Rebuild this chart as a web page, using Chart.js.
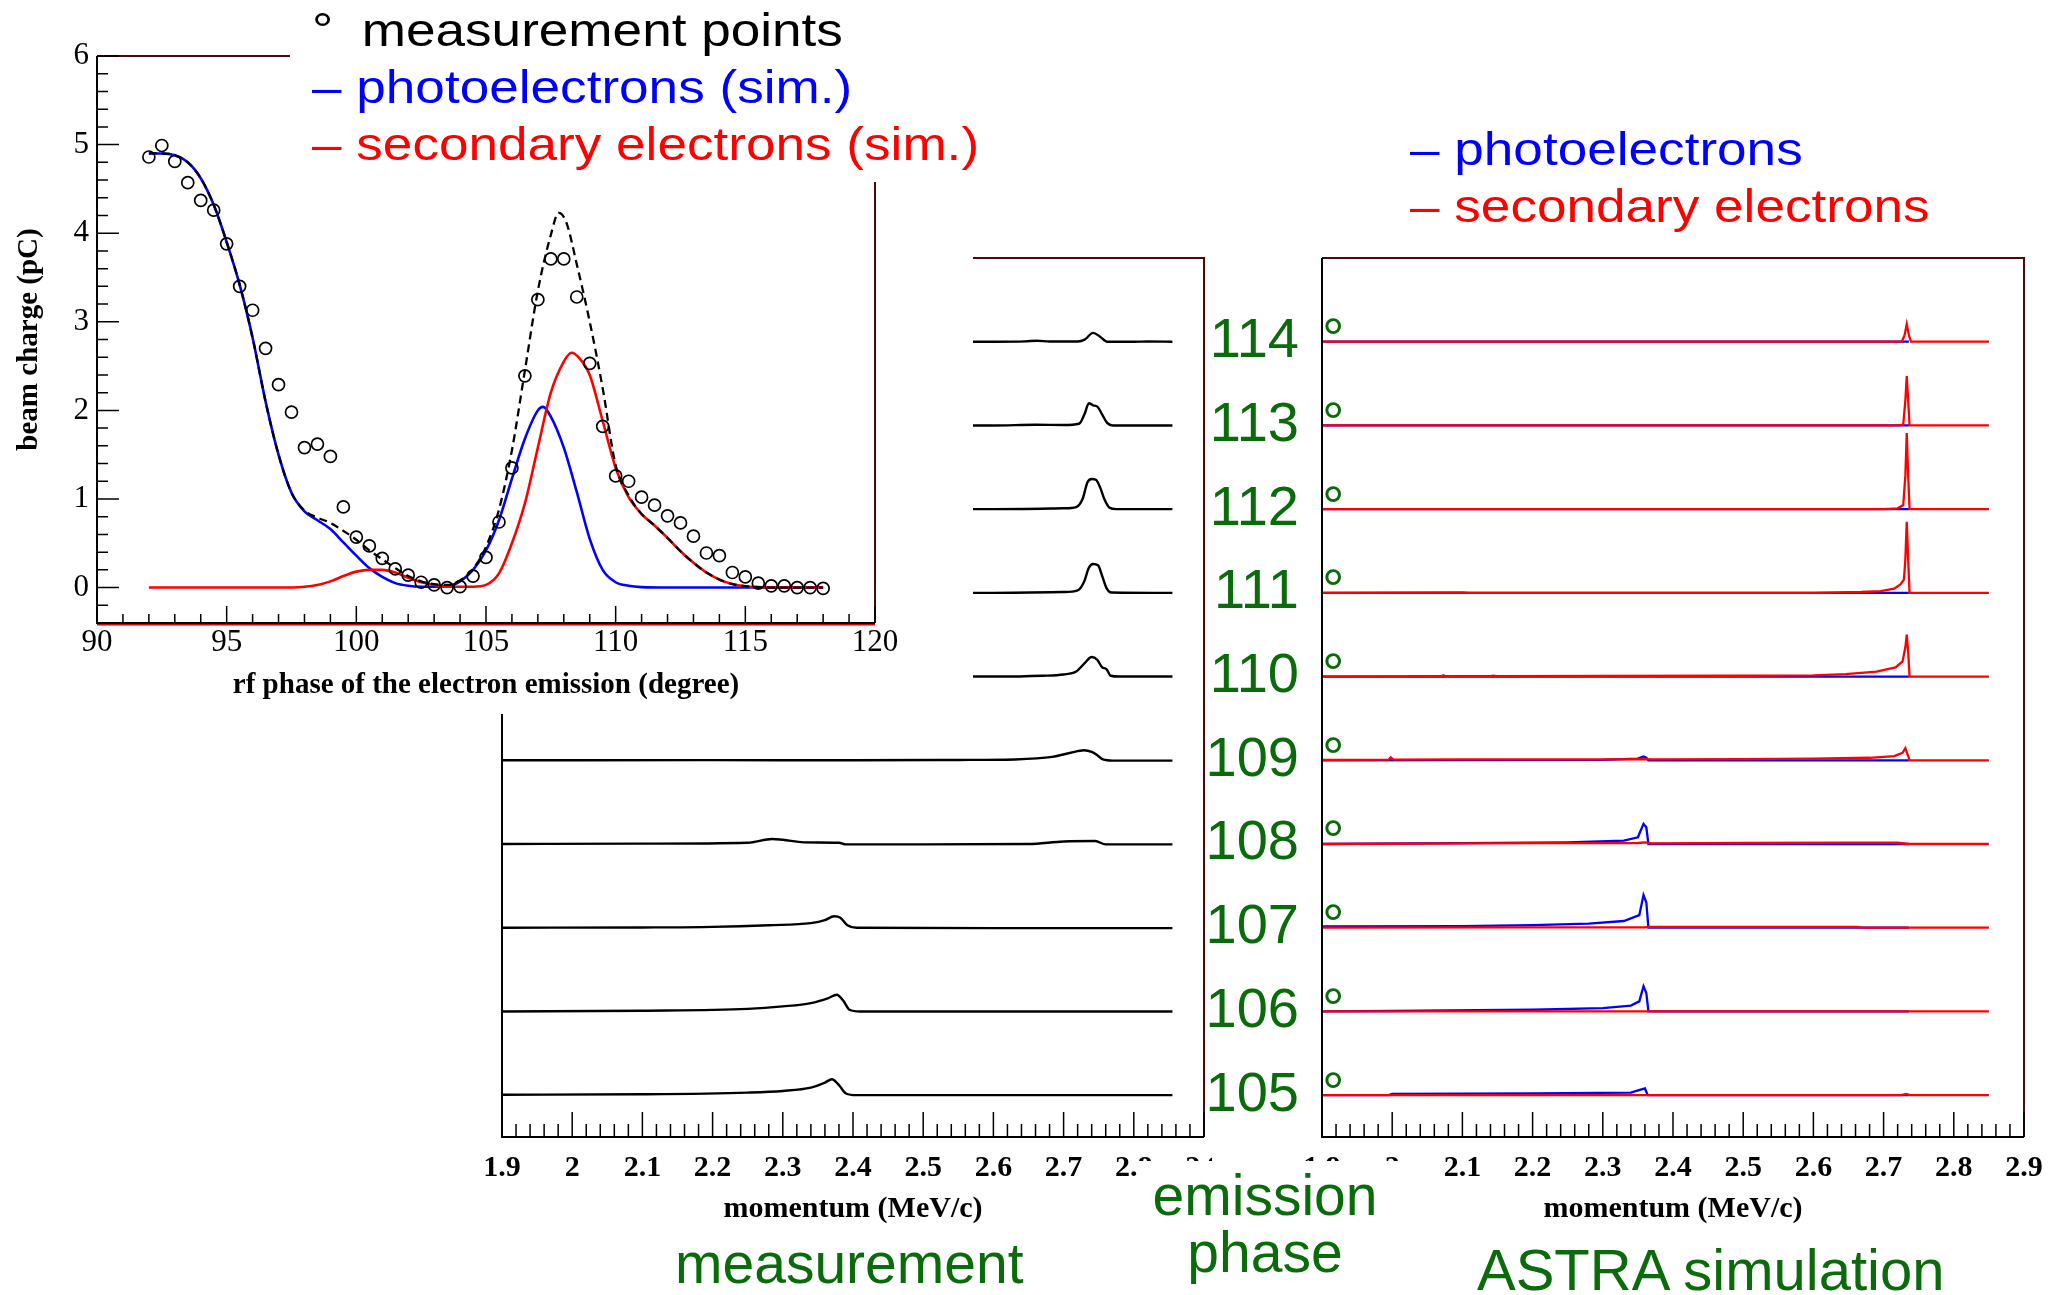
<!DOCTYPE html>
<html>
<head>
<meta charset="utf-8">
<title>beam charge and momentum spectra</title>
<script src="https://cdn.jsdelivr.net/npm/chart.js@4.4.1/dist/chart.umd.min.js"></script>
<style>
  html, body { margin: 0; padding: 0; background: #fff; }
  body { position: relative; width: 2049px; height: 1295px; overflow: hidden; font-family: "Liberation Sans", Arial, sans-serif; }
  canvas { position: absolute; }
  #charge { left: 0; top: 0; background: #fff; }
  #meas { left: 400px; top: 240px; }
  #sim { left: 1205px; top: 240px; }
  .key { position: absolute; font-size: 47px; line-height: 50px; white-space: nowrap; transform: scaleX(1.13); transform-origin: 0 0; }
  .green { position: absolute; color: #0a6b0a; white-space: nowrap; }
</style>
</head>
<body>
<canvas id="meas" width="812" height="990"></canvas>
<canvas id="sim" width="844" height="990"></canvas>
<canvas id="charge" width="973" height="714"></canvas>

<div style="position:absolute;left:290px;top:0;width:700px;height:182px;background:#fff"></div>
<div class="key" style="left:312px;top:5px;color:#000"><span style="display:inline-block;width:44px">°</span>measurement points</div>
<div class="key" style="left:312px;top:62px;color:#0000ff">– photoelectrons (sim.)</div>
<div class="key" style="left:312px;top:119px;color:#ff0000">– secondary electrons (sim.)</div>

<div class="key" style="left:1410px;top:124px;color:#0000ff">– photoelectrons</div>
<div class="key" style="left:1410px;top:181px;color:#ff0000">– secondary electrons</div>

<div style="position:absolute;left:1138px;top:1161px;width:282px;height:134px;background:#fff"></div>
<div class="green" style="left:1140px;top:1167px;width:250px;text-align:center;font-size:57px;line-height:57px">emission<br>phase</div>
<div class="green" style="left:675px;top:1235px;font-size:57px;line-height:57px">measurement</div>
<div class="green" style="left:1477px;top:1241px;font-size:58px;line-height:58px">ASTRA simulation</div>

<script>
// beam charge vs rf phase (upper left panel)
const measPhase = [92, 92.5, 93, 93.5, 94, 94.5, 95, 95.5, 96, 96.5, 97, 97.5, 98, 98.5, 99, 99.5, 100, 100.5, 101, 101.5,
  102, 102.5, 103, 103.5, 104, 104.5, 105, 105.5, 106, 106.5, 107, 107.5, 108, 108.5, 109, 109.5, 110, 110.5, 111, 111.5,
  112, 112.5, 113, 113.5, 114, 114.5, 115, 115.5, 116, 116.5, 117, 117.5, 118]
const measCharge = [4.86, 4.99, 4.81, 4.57, 4.37, 4.26, 3.88, 3.40, 3.13, 2.70, 2.29, 1.98, 1.58, 1.62, 1.48, 0.91, 0.57, 0.47, 0.33, 0.21,
  0.14, 0.06, 0.03, 0.00, 0.01, 0.13, 0.34, 0.74, 1.35, 2.39, 3.25, 3.71, 3.71, 3.28, 2.53, 1.82, 1.26, 1.20, 1.02, 0.93,
  0.81, 0.73, 0.58, 0.39, 0.36, 0.17, 0.12, 0.05, 0.02, 0.02, 0.00, 0.00, -0.01]

const photoPhase = [92, 92.5, 93, 93.5, 94, 94.5, 95, 95.5, 96, 96.5, 97, 97.5, 98, 98.5, 99, 99.5, 100, 100.5, 101, 101.5,
  102, 102.5, 103, 103.5, 104, 104.5, 105, 105.5, 106, 106.5, 107, 107.2, 107.5, 108, 108.5, 109, 109.5, 110, 110.5, 111,
  112, 114, 116, 118]
const photoCharge = [4.90, 4.90, 4.88, 4.80, 4.62, 4.32, 3.90, 3.42, 2.82, 2.10, 1.50, 1.07, 0.86, 0.76, 0.66, 0.51, 0.36, 0.22, 0.12, 0.05,
  0.02, 0.01, 0.01, 0.015, 0.07, 0.20, 0.42, 0.76, 1.23, 1.68, 2.00, 2.04, 1.93, 1.58, 1.08, 0.55, 0.20, 0.06, 0.02, 0.005,
  0, 0, 0, 0]

const secPhase = [92, 97, 98, 98.5, 99, 99.5, 100, 100.5, 101, 101.5, 102, 102.5, 103, 103.5, 104, 104.5, 105, 105.5, 106, 106.5,
  107, 107.5, 108, 108.3, 108.6, 109, 109.5, 110, 110.5, 111, 111.5, 112, 112.5, 113, 113.5, 114, 114.5, 115, 115.5, 116, 118]
const secCharge = [0, 0, 0.01, 0.03, 0.07, 0.13, 0.18, 0.20, 0.20, 0.17, 0.11, 0.06, 0.03, 0.01, 0.01, 0.01, 0.03, 0.16, 0.50, 0.95,
  1.58, 2.20, 2.55, 2.65, 2.59, 2.40, 1.88, 1.35, 1.02, 0.83, 0.70, 0.56, 0.41, 0.28, 0.17, 0.09, 0.04, 0.015, 0.005, 0, 0]

const sumPhase = [92, 92.5, 93, 93.5, 94, 94.5, 95, 95.5, 96, 96.5, 97, 97.5, 98, 98.5, 99, 99.5, 100, 100.5, 101, 101.5,
  102, 102.5, 103, 103.5, 104, 104.5, 105, 105.5, 106, 106.5, 107, 107.5, 107.8, 108.1, 108.5, 109, 109.5, 110, 110.5, 111,
  111.5, 112, 112.5, 113, 113.5, 114, 114.5, 115, 115.5, 116, 117, 118]
const sumCharge = [4.90, 4.90, 4.88, 4.80, 4.62, 4.32, 3.90, 3.42, 2.82, 2.10, 1.50, 1.07, 0.87, 0.79, 0.73, 0.64, 0.54, 0.42, 0.32, 0.22,
  0.13, 0.07, 0.04, 0.03, 0.08, 0.21, 0.46, 0.88, 1.55, 2.45, 3.35, 3.98, 4.23, 4.12, 3.65, 3.00, 2.25, 1.38, 1.04, 0.83,
  0.70, 0.56, 0.41, 0.28, 0.17, 0.09, 0.04, 0.015, 0.005, 0, 0, 0]

// momentum spectra, [momentum MeV/c, signal above the trace's baseline]
const phases = [105, 106, 107, 108, 109, 110, 111, 112, 113, 114]

const meas105 = [[1.9, 0.005], [2.1, 0.01], [2.25, 0.03], [2.3, 0.05], [2.34, 0.09], [2.36, 0.15], [2.37, 0.19], [2.38, 0.12], [2.39, 0.02], [2.405, 0], [2.855, 0]]
const meas106 = [[1.9, 0], [2.1, 0.008], [2.25, 0.03], [2.3, 0.06], [2.34, 0.1], [2.365, 0.16], [2.377, 0.2], [2.386, 0.13], [2.395, 0.02], [2.41, 0], [2.855, 0]]
const meas107 = [[1.9, 0], [2.1, 0.003], [2.2, 0.01], [2.28, 0.03], [2.34, 0.055], [2.36, 0.09], [2.373, 0.137], [2.382, 0.12], [2.392, 0.03], [2.405, 0], [2.6, -0.005], [2.855, -0.005]]
const meas108 = [[1.9, 0], [2.1, 0.004], [2.25, 0.015], [2.285, 0.06], [2.3, 0.05], [2.33, 0.02], [2.38, 0.015], [2.39, -0.005], [2.5, -0.005], [2.65, 0], [2.7, 0.03], [2.745, 0.035], [2.76, -0.005], [2.855, -0.005]]
const meas109 = [[1.9, 0], [2.2, 0.002], [2.4, 0], [2.55, 0.004], [2.63, 0.01], [2.684, 0.04], [2.71, 0.09], [2.729, 0.12], [2.74, 0.1], [2.748, 0.06], [2.756, 0.01], [2.77, -0.004], [2.855, -0.004]]
const meas110 = [[1.9, 0], [2.6, 0], [2.67, 0.01], [2.7, 0.025], [2.718, 0.06], [2.73, 0.16], [2.74, 0.233], [2.748, 0.2], [2.755, 0.11], [2.761, 0.09], [2.767, 0.01], [2.78, 0], [2.855, 0]]
const meas111 = [[1.9, 0], [2.6, 0], [2.7, 0.01], [2.72, 0.03], [2.729, 0.13], [2.736, 0.3], [2.742, 0.345], [2.749, 0.33], [2.755, 0.2], [2.761, 0.06], [2.768, 0.005], [2.855, 0]]
const meas112 = [[1.9, 0], [2.6, 0], [2.7, 0.01], [2.718, 0.025], [2.727, 0.12], [2.734, 0.32], [2.74, 0.36], [2.746, 0.35], [2.752, 0.26], [2.758, 0.12], [2.765, 0.02], [2.775, 0], [2.855, 0]]
const meas113 = [[1.9, 0], [2.6, 0], [2.66, 0.008], [2.7, 0.005], [2.722, 0.02], [2.73, 0.14], [2.736, 0.265], [2.742, 0.24], [2.748, 0.225], [2.755, 0.13], [2.762, 0.03], [2.77, 0], [2.855, 0]]
const meas114 = [[1.9, 0], [2.6, 0], [2.645, 0.004], [2.662, 0.012], [2.68, 0.002], [2.72, 0.003], [2.73, 0.025], [2.742, 0.105], [2.752, 0.06], [2.762, 0], [2.8, 0], [2.82, 0.003], [2.855, 0]]

const simPhoto105 = [[1.9, 0], [1.995, 0], [2.0, 0.015], [2.2, 0.02], [2.34, 0.03], [2.355, 0.07], [2.36, 0.08], [2.364, 0], [2.736, 0]]
const simPhoto106 = [[1.9, 0], [2.0, 0.005], [2.2, 0.02], [2.3, 0.04], [2.34, 0.07], [2.352, 0.12], [2.358, 0.3], [2.362, 0.22], [2.365, 0], [2.736, 0]]
const simPhoto107 = [[1.9, 0.015], [2.1, 0.02], [2.2, 0.03], [2.28, 0.05], [2.33, 0.08], [2.352, 0.15], [2.358, 0.39], [2.362, 0.3], [2.365, 0], [2.736, 0]]
const simPhoto108 = [[1.9, 0], [2.1, 0.01], [2.25, 0.02], [2.33, 0.04], [2.35, 0.08], [2.358, 0.24], [2.362, 0.2], [2.365, 0], [2.736, 0]]
const simPhoto109 = [[1.9, 0], [2.3, 0.005], [2.35, 0.02], [2.358, 0.045], [2.362, 0.03], [2.365, 0], [2.736, 0]]
const simPhoto110 = [[1.9, 0], [2.736, 0]]
const simPhoto111 = [[1.9, 0], [2.736, 0]]
const simPhoto112 = [[1.9, 0], [2.736, 0]]
const simPhoto113 = [[1.9, 0], [2.736, 0]]
const simPhoto114 = [[1.9, 0], [2.736, 0]]

const simSec105 = [[1.9, 0], [2.725, 0], [2.732, 0.015], [2.738, 0], [2.85, 0]]
const simSec106 = [[1.9, 0], [2.85, 0]]
const simSec107 = [[1.9, 0], [2.2, 0.005], [2.36, 0.005], [2.365, 0.01], [2.5, 0.01], [2.66, 0.01], [2.67, 0], [2.85, 0]]
const simSec108 = [[1.9, 0], [2.2, 0.01], [2.35, 0.012], [2.36, 0.02], [2.37, 0.008], [2.5, 0.012], [2.65, 0.015], [2.72, 0.015], [2.735, 0], [2.85, 0]]
const simSec109 = [[1.9, 0.005], [1.995, 0.008], [1.998, 0.035], [2.002, 0.008], [2.1, 0.012], [2.2, 0.01], [2.3, 0.012], [2.36, 0.015], [2.37, 0.01], [2.5, 0.015],
  [2.6, 0.02], [2.68, 0.03], [2.715, 0.05], [2.727, 0.09], [2.731, 0.145], [2.735, 0.05], [2.737, 0], [2.85, 0]]
const simSec110 = [[1.9, 0], [2.07, 0.004], [2.073, 0.015], [2.076, 0.004], [2.14, 0.004], [2.144, 0.012], [2.148, 0.004], [2.3, 0.008], [2.5, 0.01], [2.6, 0.015],
  [2.646, 0.03], [2.69, 0.06], [2.717, 0.11], [2.727, 0.18], [2.731, 0.35], [2.733, 0.5], [2.735, 0.3], [2.737, 0], [2.85, 0]]
const simSec111 = [[1.9, 0], [2.1, 0.005], [2.11, 0], [2.6, 0], [2.668, 0.01], [2.696, 0.02], [2.715, 0.05], [2.724, 0.1], [2.729, 0.16], [2.731, 0.4],
  [2.733, 0.85], [2.735, 0.4], [2.737, 0], [2.85, 0]]
const simSec112 = [[1.9, 0], [2.7, 0], [2.72, 0.01], [2.728, 0.05], [2.731, 0.4], [2.733, 0.91], [2.735, 0.4], [2.737, 0], [2.85, 0]]
const simSec113 = [[1.9, 0], [2.722, 0], [2.728, 0.01], [2.731, 0.3], [2.733, 0.59], [2.735, 0.3], [2.737, 0], [2.85, 0]]
const simSec114 = [[1.9, 0], [2.726, 0], [2.73, 0.08], [2.733, 0.21], [2.736, 0.08], [2.739, 0], [2.85, 0]]

const measTraces = [meas105, meas106, meas107, meas108, meas109, meas110, meas111, meas112, meas113, meas114]
const simPhoto = [simPhoto105, simPhoto106, simPhoto107, simPhoto108, simPhoto109, simPhoto110, simPhoto111, simPhoto112, simPhoto113, simPhoto114]
const simSec = [simSec105, simSec106, simSec107, simSec108, simSec109, simSec110, simSec111, simSec112, simSec113, simSec114]

const SERIF = '"Liberation Serif", "Times New Roman", serif'
const SANS = '"Liberation Sans", Arial, sans-serif'
const GREEN = '#0a6b0a'
const EDGE = '#4a0a0a'

const zip = (xs, ys) => xs.map((x, i) => ({x: x, y: ys[i]}))
const stack = (pairs, base) => pairs.map(p => ({x: p[0], y: base + p[1]}))

// fixed axis boxes, no extra room for the end labels
const fixHeight = h => s => { s.height = h; s.paddingLeft = 0; s.paddingRight = 0 }
const fixWidth = w => s => { s.width = w; s.paddingTop = 0; s.paddingBottom = 0 }

// ROOT style frame with inward ticks
const frame = {
    id: 'frame',
    afterDatasetsDraw(chart, args, o) {
        const {ctx, chartArea: a} = chart
        ctx.save()
        ctx.lineWidth = 2
        ctx.strokeStyle = EDGE
        ctx.beginPath()
        ctx.moveTo(a.left, a.top)
        ctx.lineTo(a.right, a.top)
        ctx.lineTo(a.right, a.bottom)
        ctx.stroke()
        if (o.under) {
            ctx.strokeStyle = o.under
            ctx.beginPath()
            ctx.moveTo(a.left, a.bottom + 1.5)
            ctx.lineTo(a.right, a.bottom + 1.5)
            ctx.stroke()
        }
        ctx.strokeStyle = '#000'
        ctx.beginPath()
        ctx.moveTo(a.left, a.top)
        ctx.lineTo(a.left, a.bottom)
        ctx.lineTo(a.right, a.bottom)
        ctx.stroke()
        ctx.lineWidth = 1.5
        ctx.beginPath()
        for (const t of o.ticks) {
            const s = chart.scales[t.axis]
            for (let i = 0; t.min + i * t.step <= t.max + 1e-9; i++) {
                const v = t.min + i * t.step
                const r = v / t.majorStep
                const len = Math.abs(r - Math.round(r)) < 1e-6 ? t.major : t.minor
                const p = s.getPixelForValue(v)
                if (t.axis === 'x') {
                    ctx.moveTo(p, a.bottom)
                    ctx.lineTo(p, a.bottom - len)
                } else {
                    ctx.moveTo(a.left, p)
                    ctx.lineTo(a.left + len, p)
                }
            }
        }
        ctx.stroke()
        ctx.restore()
    },
}

// small degree sign after each emission phase label
const degree = {
    id: 'degree',
    afterDraw(chart) {
        const {ctx, chartArea: a} = chart
        const s = chart.scales.y
        ctx.save()
        ctx.fillStyle = GREEN
        ctx.font = '56px ' + SANS
        ctx.textAlign = 'left'
        ctx.textBaseline = 'middle'
        phases.forEach(p => ctx.fillText('°', a.left, s.getPixelForValue(p)))
        ctx.restore()
    },
}

const common = {
    responsive: false,
    animation: false,
    devicePixelRatio: 1,
    events: [],
}

new Chart(document.getElementById('charge'), {
    type: 'scatter',
    data: {
        datasets: [
            {
                label: 'measurement points',
                data: zip(measPhase, measCharge),
                showLine: false,
                pointStyle: 'circle',
                pointRadius: 6,
                pointBorderWidth: 1.7,
                borderColor: '#000',
                backgroundColor: 'rgba(0,0,0,0)',
            },
            {
                label: 'sum',
                data: zip(sumPhase, sumCharge),
                showLine: true,
                borderColor: '#000',
                borderWidth: 2.3,
                borderDash: [8, 5],
                pointRadius: 0,
                cubicInterpolationMode: 'monotone',
            },
            {
                label: 'secondary electrons (sim.)',
                data: zip(secPhase, secCharge),
                showLine: true,
                borderColor: '#ff0000',
                borderWidth: 2.6,
                pointRadius: 0,
                cubicInterpolationMode: 'monotone',
            },
            {
                label: 'photoelectrons (sim.)',
                data: zip(photoPhase, photoCharge),
                showLine: true,
                borderColor: '#0000ff',
                borderWidth: 2.6,
                pointRadius: 0,
                cubicInterpolationMode: 'monotone',
            },
        ],
    },
    options: {
        ...common,
        layout: {padding: {left: 0, top: 56, right: 98, bottom: 0}},
        plugins: {
            legend: {display: false},
            tooltip: {enabled: false},
            frame: {
                under: '#e00000',
                ticks: [
                    {axis: 'x', min: 90, max: 120, step: 1, majorStep: 5, major: 17, minor: 9},
                    {axis: 'y', min: -0.4, max: 6, step: 0.2, majorStep: 1, major: 22, minor: 11},
                ],
            },
        },
        scales: {
            x: {
                type: 'linear',
                min: 90,
                max: 120,
                afterFit: fixHeight(91),
                grid: {display: false, drawTicks: false},
                border: {display: false},
                ticks: {stepSize: 5, padding: 1, color: '#000', font: {family: SERIF, size: 31}, maxRotation: 0, autoSkip: false},
                title: {display: true, text: 'rf phase of the electron emission (degree)', color: '#000', font: {family: SERIF, size: 29, weight: 'bold'}, padding: {top: 0, bottom: 11}},
            },
            y: {
                min: -0.4,
                max: 6,
                afterFit: fixWidth(97),
                grid: {display: false, drawTicks: false},
                border: {display: false},
                ticks: {
                    stepSize: 1,
                    includeBounds: false,
                    padding: 8,
                    color: '#000',
                    font: {family: SERIF, size: 31},
                    callback: v => (Number.isInteger(v) && v >= 0 ? v : null),
                },
                title: {display: true, text: 'beam charge (pC)', color: '#000', font: {family: SERIF, size: 29, weight: 'bold'}, padding: {top: 12, bottom: 0}},
            },
        },
    },
    plugins: [frame],
})

const momentumX = {
    type: 'linear',
    min: 1.9,
    max: 2.9,
    afterFit: fixHeight(93),
    grid: {display: false, drawTicks: false},
    border: {display: false},
    ticks: {
        stepSize: 0.1,
        padding: 13,
        color: '#000',
        font: {family: SERIF, size: 30, weight: 'bold'},
        maxRotation: 0,
        autoSkip: false,
        callback: v => String(Math.round(v * 10) / 10),
    },
    title: {display: true, text: 'momentum (MeV/c)', color: '#000', font: {family: SERIF, size: 30, weight: 'bold'}, padding: {top: 0, bottom: 3}},
}
const momentumTicks = [{axis: 'x', min: 1.9, max: 2.9, step: 0.02, majorStep: 0.1, major: 25, minor: 13}]

new Chart(document.getElementById('meas'), {
    type: 'scatter',
    data: {
        datasets: measTraces.map((t, i) => ({
            label: 'measurement ' + phases[i],
            data: stack(t, phases[i]),
            showLine: true,
            borderColor: '#000',
            borderWidth: 2.4,
            pointRadius: 0,
            cubicInterpolationMode: 'monotone',
        })),
    },
    options: {
        ...common,
        layout: {padding: {left: 102, top: 18, right: 8, bottom: 0}},
        plugins: {legend: {display: false}, tooltip: {enabled: false}, frame: {ticks: momentumTicks}},
        scales: {
            x: momentumX,
            y: {display: false, min: 104.5, max: 115},
        },
    },
    plugins: [frame],
})

new Chart(document.getElementById('sim'), {
    type: 'scatter',
    data: {
        datasets: [
            ...simSec.map((t, i) => ({
                label: 'secondary electrons ' + phases[i],
                data: stack(t, phases[i]),
                showLine: true,
                borderColor: '#ff0000',
                borderWidth: 2.3,
                pointRadius: 0,
            })),
            ...simPhoto.map((t, i) => ({
                label: 'photoelectrons ' + phases[i],
                data: stack(t, phases[i]),
                showLine: true,
                borderColor: '#0000ff',
                borderWidth: 2.3,
                pointRadius: 0,
            })),
        ],
    },
    options: {
        ...common,
        layout: {padding: {left: 0, top: 18, right: 25, bottom: 0}},
        plugins: {legend: {display: false}, tooltip: {enabled: false}, frame: {ticks: momentumTicks}},
        scales: {
            x: momentumX,
            y: {
                min: 104.5,
                max: 115,
                afterFit: fixWidth(117),
                grid: {display: false, drawTicks: false},
                border: {display: false},
                ticks: {
                    stepSize: 1,
                    includeBounds: false,
                    padding: 23,
                    color: GREEN,
                    font: {family: SANS, size: 56},
                    autoSkip: false,
                    callback: v => (phases.includes(v) ? v : null),
                },
            },
        },
    },
    plugins: [frame, degree],
})
</script>
</body>
</html>
